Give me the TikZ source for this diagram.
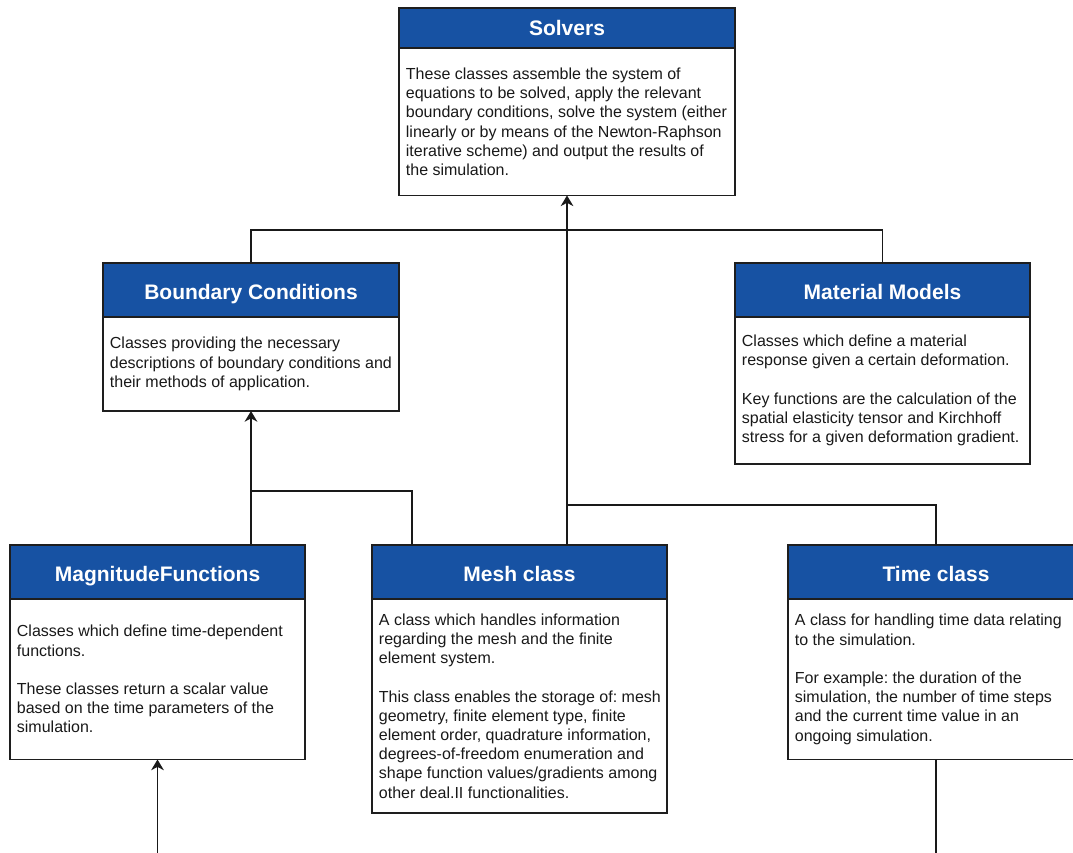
\documentclass[tikz,border=0pt]{standalone}
\usepackage{fontspec}
\setmainfont{Liberation Sans}
\frenchspacing
\usepackage{xcolor}
\definecolor{cblue}{HTML}{1752A3}
\definecolor{cborder}{HTML}{1E1E1E}
\usepackage{tikz}
\usetikzlibrary{positioning, arrows.meta}
\tikzset{
node distance=0pt,
ClassHead/.style={
	draw=cborder, fill=cblue,
	line width=1.1pt,
	outer sep=0pt, inner sep=0pt,
	text=white,
	font=\fontsize{15.75}{18}\selectfont\bfseries,
	text height=1.4em, text depth=0pt,
	anchor=north west
},
ClassBody/.style={
	draw=cborder, fill=white,
	line width=1.1pt,
	outer sep=0pt, inner sep=0pt
},
ClassText/.style={
	anchor=west,
	align=left,
	inner sep=0pt,
	xshift=5pt,
	text=black!90,
	font=\fontsize{12}{14.4}\selectfont
},
Edge/.style={
	draw=black!90,
	line width=0.8pt
},
ArrowEdge/.style={
	Edge,
	line width=1.1pt,
	-{Stealth[length=8pt, width=9.5pt, inset=2.5pt]}
}
}

\begin{document}
\begin{tikzpicture}[x=0.75pt, y=-0.75pt]
	\useasboundingbox[fill=white] (0,0) rectangle (1073,852);
	\clip (0,0) rectangle (1073,852);

	% top level
	\node[ClassHead, minimum width=252pt, minimum height=30pt, text height=1.13em] (solvers) at (399,8) {Solvers};
	\node[ClassBody, below=of solvers, minimum width=252pt, minimum height=110.6pt] (solversBody) {};
	\node[ClassText] (solversText) at (solversBody.west) {These classes assemble the system of\\
		equations to be solved, apply the relevant\\
		boundary conditions, solve the system (either\\
		linearly or by means of the Newton-Raphson\\
		iterative scheme) and output the results of\\
		the simulation.};

	% middle level
	\node[ClassHead, minimum width=222pt, minimum height=40.5pt] (bc) at (103,263) {Boundary Conditions};
	\node[ClassBody, below=of bc, minimum width=222pt, minimum height=70.5pt] (bcBody) {};
	\node[ClassText] (bcText) at (bcBody.west) {Classes providing the necessary\\
		descriptions of boundary conditions and\\
		their methods of application.};

	\node[ClassHead, minimum width=221.25pt, minimum height=40.5pt] (mm) at (735,263) {Material Models};
	\node[ClassBody, below=of mm, minimum width=221.25pt, minimum height=110.25pt] (mmBody) {};
	\node[ClassText] (mmText) at (mmBody.west) {Classes which define a material\\
		response given a certain deformation.\\[14.4pt]
		Key functions are the calculation of the\\
		spatial elasticity tensor and Kirchhoff\\
		stress for a given deformation gradient.};

	% bottom level
	\node[ClassHead, minimum width=221.25pt, minimum height=40.5pt] (mf) at (10,545) {MagnitudeFunctions};
	\node[ClassBody, below=of mf, minimum width=221.25pt, minimum height=120.4pt] (mfBody) {};
	\node[ClassText] (mfText) at (mfBody.west) {Classes which define time-dependent\\
		functions.\\[14.4pt]
		These classes return a scalar value\\
		based on the time parameters of the\\
		simulation.};

	\node[ClassHead, minimum width=221.25pt, minimum height=40.5pt] (mesh) at (372,545) {Mesh class};
	\node[ClassBody, below=of mesh, minimum width=221.25pt, minimum height=160.5pt] (meshBody) {};
	\node[ClassText] (meshText) at (meshBody.west) {A class which handles information\\
		regarding the mesh and the finite\\
		element system.\\[14.4pt]
		This class enables the storage of: mesh\\
		geometry, finite element type, finite\\
		element order, quadrature information,\\
		degrees-of-freedom enumeration and\\
		shape function values/gradients among\\
		other deal.II functionalities.};

	\node[ClassHead, minimum width=222pt, minimum height=40.5pt] (time) at (788,545) {Time class};
	\node[ClassBody, below=of time, minimum width=222pt, minimum height=120.4pt] (timeBody) {};
	\node[ClassText] (timeText) at (timeBody.west) {A class for handling time data relating\\
		to the simulation.\\[14.4pt]
		For example: the duration of the\\
		simulation, the number of time steps\\
		and the current time value in an\\
		ongoing simulation.};

	% joints
	\coordinate (solversJoin) at (solversBody.south |- 0,505);
	\coordinate (bcJoin) at (bcBody.south |- 0,491);
	\coordinate (mfIn) at (mfBody.south |- 0,860);
	\coordinate (timeOut) at (timeBody.south |- 0,860);

	\draw[Edge] (bc.north) -- ++(0,-33) -| (mm.north);
	\draw[Edge] (time.north) |- (solversJoin);
	\draw[Edge] ([xshift=30pt]mesh.north west) |- (bcJoin);
	\draw[ArrowEdge] (solversBody.south |- mesh.north) -- (solversBody.south);
	\draw[ArrowEdge] (bcBody.south |- mf.north) -- (bcBody.south);
	\draw[ArrowEdge] (mfIn) -- (mfBody.south);
	\draw[Edge] (timeBody.south) -- (timeOut);
\end{tikzpicture}
\end{document}
